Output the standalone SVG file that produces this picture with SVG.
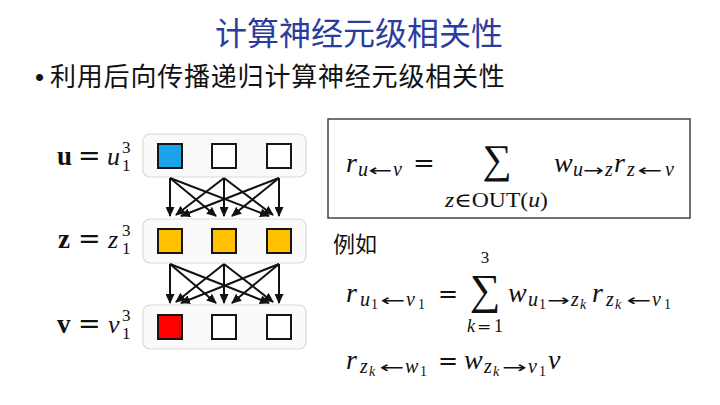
<svg xmlns="http://www.w3.org/2000/svg" width="720" height="405" viewBox="0 0 720 405">
<style>
.cjk{font-family:"Noto Sans CJK SC","Noto Sans",sans-serif}
.m{font-family:"Liberation Serif","DejaVu Serif",serif;font-style:italic;fill:#111}
.r{font-family:"Liberation Serif","DejaVu Serif",serif;font-style:normal;fill:#111}
.b{font-family:"Liberation Serif","DejaVu Serif",serif;font-weight:bold;font-style:normal;fill:#111}
.eq{font-family:"DejaVu Serif",serif;font-style:normal;fill:#111}
.ar{font-family:"DejaVu Sans",sans-serif;font-size:16px;fill:#111}
.n{font-style:normal}
.s{font-size:20px}
.ss{font-size:14px}
.layer{fill:#fafafa;stroke:#d9d9d9;stroke-width:1.2}
.sq{stroke:#151515;stroke-width:2}
.conn line{stroke:#111;stroke-width:2;marker-end:url(#ah)}
</style>
<defs>
<marker id="ah" markerUnits="userSpaceOnUse" markerWidth="10" markerHeight="9" refX="9" refY="4.5" orient="auto">
<path d="M0,0 L10,4.5 L0,9 z" fill="#111"/>
</marker>
</defs>
<rect width="720" height="405" fill="#fff"/>
<text class="cjk" x="359" y="45" font-size="32" fill="#2a3c9e" text-anchor="middle">计算神经元级相关性</text>
<text x="35" y="86" font-size="26" fill="#111" font-family="Liberation Sans, sans-serif">•</text>
<text class="cjk" x="50" y="86" font-size="26" letter-spacing="0.8" fill="#111">利用后向传播递归计算神经元级相关性</text>

<g id="layer-u">
<rect class="layer" x="143" y="134" width="163" height="43" rx="7"/>
<rect class="sq" x="158" y="144" width="24" height="24" fill="#1aa3e8"/>
<rect class="sq" x="212" y="144" width="24" height="24" fill="#fff"/>
<rect class="sq" x="267" y="144" width="24" height="24" fill="#fff"/>
<text class="b" x="57" y="165" font-size="27">u</text>
<text class="eq" x="78" y="165" font-size="27">=</text>
<text class="m" x="107" y="165" font-size="26">u</text>
<text class="r" x="122" y="153" font-size="17">3</text>
<text class="r" x="122" y="171" font-size="17">1</text>
</g>
<g id="layer-z">
<rect class="layer" x="143" y="219" width="163" height="44" rx="7"/>
<rect class="sq" x="158" y="229" width="24" height="24" fill="#ffc000"/>
<rect class="sq" x="212" y="229" width="24" height="24" fill="#ffc000"/>
<rect class="sq" x="267" y="229" width="24" height="24" fill="#ffc000"/>
<text class="b" x="58" y="248" font-size="27">z</text>
<text class="eq" x="78" y="248" font-size="27">=</text>
<text class="m" x="108" y="248" font-size="26">z</text>
<text class="r" x="122" y="236" font-size="17">3</text>
<text class="r" x="122" y="254" font-size="17">1</text>
</g>
<g id="layer-v">
<rect class="layer" x="143" y="305" width="163" height="44" rx="7"/>
<rect class="sq" x="158" y="315" width="24" height="24" fill="#ff0000"/>
<rect class="sq" x="212" y="315" width="24" height="24" fill="#fff"/>
<rect class="sq" x="267" y="315" width="24" height="24" fill="#fff"/>
<text class="b" x="57" y="333" font-size="27">v</text>
<text class="eq" x="78" y="333" font-size="27">=</text>
<text class="m" x="108" y="333" font-size="26">v</text>
<text class="r" x="122" y="321" font-size="17">3</text>
<text class="r" x="122" y="339" font-size="17">1</text>
</g>

<g id="connectors" class="conn">
<line x1="170" y1="178" x2="170" y2="216"/>
<line x1="170" y1="178" x2="216" y2="216"/>
<line x1="170" y1="178" x2="269" y2="216"/>
<line x1="224" y1="178" x2="176" y2="215"/>
<line x1="224" y1="178" x2="224" y2="216"/>
<line x1="224" y1="178" x2="273" y2="215"/>
<line x1="279" y1="178" x2="181" y2="216"/>
<line x1="279" y1="178" x2="232" y2="216"/>
<line x1="279" y1="178" x2="279" y2="216"/>
<line x1="170" y1="264" x2="170" y2="303"/>
<line x1="170" y1="264" x2="216" y2="303"/>
<line x1="170" y1="264" x2="269" y2="303"/>
<line x1="224" y1="264" x2="176" y2="302"/>
<line x1="224" y1="264" x2="224" y2="303"/>
<line x1="224" y1="264" x2="273" y2="302"/>
<line x1="279" y1="264" x2="181" y2="303"/>
<line x1="279" y1="264" x2="232" y2="303"/>
<line x1="279" y1="264" x2="279" y2="303"/>
</g>

<g id="formula-box">
<rect x="328" y="119" width="362" height="99" fill="#fff" stroke="#444" stroke-width="1.5"/>
<text class="m" font-size="28"><tspan x="346" y="172">r</tspan><tspan class="s" x="358" y="176">u</tspan><tspan class="s" x="393" y="176">v</tspan><tspan x="554" y="172">w</tspan><tspan class="s" x="573" y="176">u</tspan><tspan class="s" x="605" y="176">z</tspan><tspan x="614" y="172">r</tspan><tspan class="s" x="627" y="176">z</tspan><tspan class="s" x="665" y="176">v</tspan></text>
<text class="ar" x="368" y="176" textLength="24" lengthAdjust="spacingAndGlyphs">←</text>
<text class="ar" x="583" y="176" textLength="21" lengthAdjust="spacingAndGlyphs">→</text>
<text class="ar" x="637" y="176" textLength="25" lengthAdjust="spacingAndGlyphs">←</text>
<text class="eq" x="413" y="172" font-size="26">=</text>
<text class="r" x="497" y="173" font-size="41" text-anchor="middle">∑</text>
<text class="m" x="445" y="207" font-size="20" textLength="103" lengthAdjust="spacingAndGlyphs">z<tspan class="n">∈OUT(</tspan>u<tspan class="n">)</tspan></text>
</g>

<text class="cjk" x="333" y="252" font-size="22" fill="#111">例如</text>
<g id="formula-2">
<text class="m" font-size="28"><tspan x="346" y="302">r</tspan><tspan class="s" x="360" y="306">u</tspan><tspan class="ss n" x="371" y="309">1</tspan><tspan class="s" x="406" y="306">v</tspan><tspan class="ss n" x="418" y="309">1</tspan><tspan x="508" y="302">w</tspan><tspan class="s" x="528" y="306">u</tspan><tspan class="ss n" x="539" y="309">1</tspan><tspan class="s" x="571" y="306">z</tspan><tspan class="ss" x="580" y="309">k</tspan><tspan x="592" y="302">r</tspan><tspan class="s" x="606" y="306">z</tspan><tspan class="ss" x="615" y="309">k</tspan><tspan class="s" x="652" y="306">v</tspan><tspan class="ss n" x="664" y="309">1</tspan></text>
<text class="ar" x="380" y="306" textLength="25" lengthAdjust="spacingAndGlyphs">←</text>
<text class="ar" x="547" y="306" textLength="23" lengthAdjust="spacingAndGlyphs">→</text>
<text class="ar" x="626" y="306" textLength="25" lengthAdjust="spacingAndGlyphs">←</text>
<text class="eq" x="438" y="302" font-size="24">=</text>
<text class="r" x="485" y="304" font-size="43" text-anchor="middle">∑</text>
<text class="r" x="485" y="263" font-size="17" text-anchor="middle">3</text>
<text class="m" x="467" y="332" font-size="18">k</text>
<text class="eq" x="477" y="332" font-size="17">=</text>
<text class="r" x="494" y="332" font-size="18">1</text>
</g>
<g id="formula-3">
<text class="m" font-size="28"><tspan x="346" y="369">r</tspan><tspan class="s" x="360" y="373">z</tspan><tspan class="ss" x="369" y="376">k</tspan><tspan class="s" x="405" y="373">w</tspan><tspan class="ss n" x="420" y="376">1</tspan><tspan x="464" y="369">w</tspan><tspan class="s" x="484" y="373">z</tspan><tspan class="ss" x="493" y="376">k</tspan><tspan class="s" x="528" y="373">v</tspan><tspan class="ss n" x="539" y="376">1</tspan><tspan x="548" y="369">v</tspan></text>
<text class="ar" x="379" y="373" textLength="25" lengthAdjust="spacingAndGlyphs">←</text>
<text class="ar" x="502" y="373" textLength="25" lengthAdjust="spacingAndGlyphs">→</text>
<text class="eq" x="438" y="369" font-size="24">=</text>
</g>
</svg>
